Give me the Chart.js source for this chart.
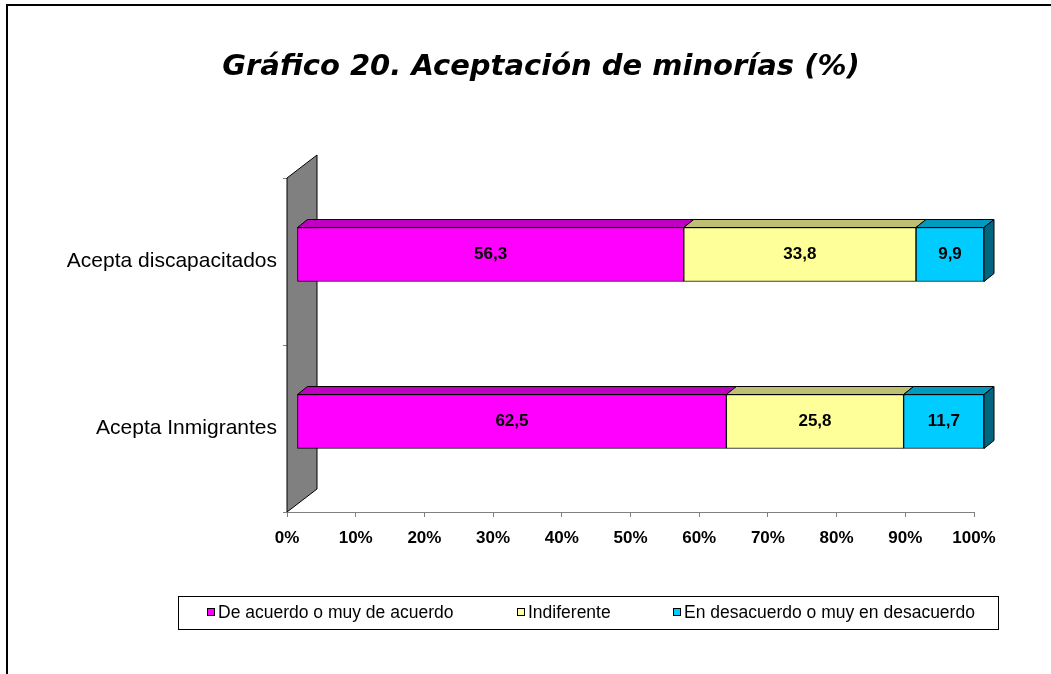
<!DOCTYPE html>
<html>
<head>
<meta charset="utf-8">
<script src="https://cdn.jsdelivr.net/npm/chart.js@4.4.1/dist/chart.umd.min.js"></script>
<style>
  html, body { margin: 0; padding: 0; background: #fff; }
</style>
</head>
<body>
<canvas id="grafico" width="1051" height="674"></canvas>
<script>
// datos del gráfico
var titulo = 'Gráfico 20. Aceptación de minorías (%)';
var categorias = ['Acepta discapacitados', 'Acepta Inmigrantes'];
var series = ['De acuerdo o muy de acuerdo', 'Indiferente', 'En desacuerdo o muy en desacuerdo'];
var deAcuerdo = [56.3, 62.5];
var indiferente = [33.8, 25.8];
var desacuerdo = [9.9, 11.7];
var etiquetasX = ['0%', '10%', '20%', '30%', '40%', '50%', '60%', '70%', '80%', '90%', '100%'];

var colores = ['#FF00FF', '#FFFF99', '#00CCFF'];
var coloresTapa = ['#C000C0', '#BFBF73', '#0099BF'];
var colorLado = '#006680';

// desplazamientos del efecto 3D
var MOVX = 10, MOVY = 7;     // barras respecto al plano frontal
var PROFX = 10, PROFY = 8;   // profundidad de cada barra
var PAREDX = 30, PAREDY = 23; // profundidad de la pared

var fuente = '"Liberation Sans", Arial, sans-serif';

var efecto3d = {
    id: 'efecto3d',
    beforeDatasetsDraw: function(chart) {
        var ctx = chart.ctx, ca = chart.chartArea;
        // pared gris
        ctx.save();
        ctx.beginPath();
        ctx.moveTo(ca.left, ca.top);
        ctx.lineTo(ca.left + PAREDX, ca.top - PAREDY);
        ctx.lineTo(ca.left + PAREDX, ca.bottom - PAREDY);
        ctx.lineTo(ca.left, ca.bottom);
        ctx.closePath();
        ctx.fillStyle = '#808080';
        ctx.fill();
        ctx.strokeStyle = '#000';
        ctx.lineWidth = 1;
        ctx.stroke();
        ctx.restore();

        ctx.save();
        ctx.translate(MOVX, -MOVY);
    },
    afterDatasetsDraw: function(chart) {
        var ctx = chart.ctx;
        var n = chart.data.datasets.length;
        ctx.lineWidth = 1;
        ctx.strokeStyle = '#000';
        chart.data.datasets.forEach(function(ds, i) {
            chart.getDatasetMeta(i).data.forEach(function(bar, j) {
                var p = bar.getProps(['x', 'y', 'base', 'height'], true);
                var izq = Math.min(p.x, p.base), der = Math.max(p.x, p.base);
                var arr = p.y - p.height / 2, aba = p.y + p.height / 2;
                // cara superior
                ctx.beginPath();
                ctx.moveTo(izq, arr);
                ctx.lineTo(izq + PROFX, arr - PROFY);
                ctx.lineTo(der + PROFX, arr - PROFY);
                ctx.lineTo(der, arr);
                ctx.closePath();
                ctx.fillStyle = coloresTapa[i];
                ctx.fill();
                ctx.stroke();
                // cara lateral
                if (i === n - 1) {
                    ctx.beginPath();
                    ctx.moveTo(der, arr);
                    ctx.lineTo(der + PROFX, arr - PROFY);
                    ctx.lineTo(der + PROFX, aba - PROFY);
                    ctx.lineTo(der, aba);
                    ctx.closePath();
                    ctx.fillStyle = colorLado;
                    ctx.fill();
                    ctx.stroke();
                }
                // valor
                ctx.fillStyle = '#000';
                ctx.font = 'bold 17px ' + fuente;
                ctx.textAlign = 'center';
                ctx.textBaseline = 'middle';
                ctx.fillText(ds.data[j].toFixed(1).replace('.', ','), (izq + der) / 2, p.y);
            });
        });
        ctx.restore();
    },
    afterDraw: function(chart) {
        var ctx = chart.ctx;
        ctx.save();
        // marco (arriba e izquierda)
        ctx.fillStyle = '#000';
        ctx.fillRect(6, 4, 1045, 2);
        ctx.fillRect(6, 4, 2, 670);

        // título
        ctx.font = 'italic bold 29px "DejaVu Sans", Verdana, sans-serif';
        ctx.textAlign = 'center';
        ctx.textBaseline = 'middle';
        ctx.fillText(titulo, 541, 67);

        // leyenda
        ctx.lineWidth = 1;
        ctx.strokeStyle = '#000';
        ctx.strokeRect(178.5, 596.5, 820, 33);
        var posX = [207, 517, 673];
        ctx.font = '17.5px ' + fuente;
        ctx.textAlign = 'left';
        series.forEach(function(s, i) {
            ctx.fillStyle = colores[i];
            ctx.fillRect(posX[i], 608, 8, 8);
            ctx.strokeRect(posX[i] + 0.5, 608.5, 7, 7);
            ctx.fillStyle = '#000';
            ctx.fillText(s, posX[i] + 11, 613);
        });
        ctx.restore();
    }
};

var ctx = document.getElementById('grafico').getContext('2d');
var grafico = new Chart(ctx, {
    type: 'bar',
    data: {
        labels: categorias,
        datasets: [
            { label: series[0], data: deAcuerdo, backgroundColor: colores[0] },
            { label: series[1], data: indiferente, backgroundColor: colores[1] },
            { label: series[2], data: desacuerdo, backgroundColor: colores[2] }
        ]
    },
    options: {
        responsive: false,
        animation: false,
        indexAxis: 'y',
        layout: { padding: { top: 178, right: 77, bottom: 112, left: 0 } },
        datasets: {
            bar: {
                barThickness: 54,
                borderColor: '#000',
                borderWidth: 1,
                borderSkipped: false,
                clip: false
            }
        },
        scales: {
            x: {
                stacked: true,
                min: 0,
                max: 100,
                ticks: {
                    stepSize: 10,
                    color: '#000',
                    padding: 11,
                    font: { family: fuente, size: 17, weight: 'bold' },
                    callback: function(v, i) { return etiquetasX[i]; }
                },
                grid: { drawOnChartArea: false, tickLength: 5, color: '#808080' },
                border: { color: '#808080' },
                afterFit: function(s) { s.height = 50; }
            },
            y: {
                stacked: true,
                ticks: {
                    color: '#000',
                    padding: 6,
                    font: { family: fuente, size: 21 }
                },
                grid: { drawOnChartArea: false, tickLength: 4, color: '#808080', offset: true },
                border: { display: false },
                afterFit: function(s) { s.width = 287; }
            }
        },
        plugins: {
            legend: { display: false },
            title: { display: false },
            tooltip: { enabled: false }
        }
    },
    plugins: [efecto3d]
});
</script>
</body>
</html>
